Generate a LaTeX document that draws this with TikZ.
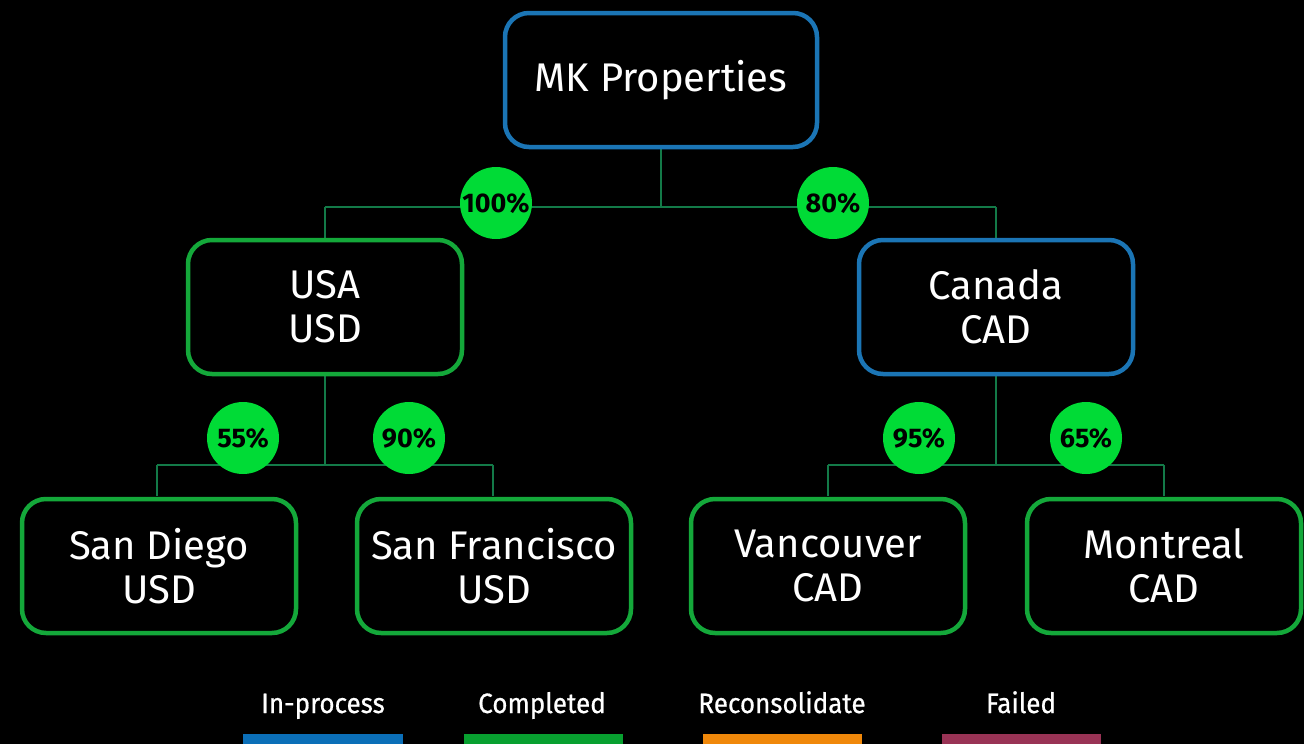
\documentclass[tikz,border=0pt]{standalone}
\usepackage{fontspec}
\setmainfont{Fira Sans}
\begin{document}
\begin{tikzpicture}[x=1pt,y=-1pt,
  box/.style={draw, line width=4.5pt, rounded corners=24pt, minimum width=274pt, minimum height=134pt, align=center, text=white, font=\fontsize{40}{44}\selectfont, fill=black},
  blu/.style={draw=boxblue},
  grn/.style={draw=boxgreen},
  pct/.style={circle, fill=pctgreen, minimum size=72pt, inner sep=0pt, text=black, font=\bfseries\fontsize{27}{27}\selectfont},
  conn/.style={draw=linegreen, line width=1.6pt},
  legtxt/.style={anchor=base, text=white, font=\fontsize{28}{28}\selectfont\addfontfeatures{FakeStretch=0.93,FakeBold=0.6}}
]
\definecolor{boxblue}{HTML}{1B75B5}
\definecolor{boxgreen}{HTML}{14A83A}
\definecolor{pctgreen}{HTML}{00DB36}
\definecolor{linegreen}{HTML}{137A48}
\definecolor{legblue}{HTML}{0B6FB8}
\definecolor{leggreen}{HTML}{08A030}
\definecolor{legorange}{HTML}{F0880A}
\definecolor{legred}{HTML}{993355}
\fill[black] (0,0) rectangle (1304,744);
\useasboundingbox (0,0) rectangle (1304,744);
% junction coordinates
\coordinate (j0) at (661,207);
\coordinate (jl) at (325,207);
\coordinate (jr) at (996,207);
\coordinate (j1) at (325,465);
\coordinate (j1l) at (157,465);
\coordinate (j1r) at (493,465);
\coordinate (j2) at (996,465);
\coordinate (j2l) at (828,465);
\coordinate (j2r) at (1164,465);
% connectors
\draw[conn] (661,149) -- (j0);
\draw[conn] (jl) -- (jr);
\draw[conn] (jl) -- (325,238);
\draw[conn] (jr) -- (996,238);
\draw[conn] (325,376) -- (j1);
\draw[conn] (j1l) -- (j1r);
\draw[conn] (j1l) -- (157,496);
\draw[conn] (j1r) -- (493,496);
\draw[conn] (996,376) -- (j2);
\draw[conn] (j2l) -- (j2r);
\draw[conn] (j2l) -- (828,496);
\draw[conn] (j2r) -- (1164,496);
% boxes
\node[box, blu, minimum width=312pt] (mk) at (661,80) {MK Properties};
\node[box, grn] (usa) at (325,307) {USA\\USD};
\node[box, blu] (can) at (996,307) {Canada\\CAD};
\node[box, grn] (sd) at (159,566) {San Diego\\USD};
\node[box, grn] (sf) at (494,566) {San Francisco\\USD};
\node[box, grn] (van) at (828,566) {Vancouver\\CAD};
\node[box, grn] (mon) at (1164,566) {Montreal\\CAD};
% percentages
\node[pct] (p1) at (496,203) {100\%};
\node[pct] (p2) at (833,203) {80\%};
\node[pct] (p3) at (243,438) {55\%};
\node[pct] (p4) at (409,438) {90\%};
\node[pct] (p5) at (919,438) {95\%};
\node[pct] (p6) at (1086,438) {65\%};
% legend
\node[legtxt] (l1) at (323,713) {In-process};
\node[legtxt] (l2) at (542,713) {Completed};
\node[legtxt] (l3) at (782,713) {Reconsolidate};
\node[legtxt] (l4) at (1021,713) {Failed};
\fill[legblue] (243,734) rectangle (403,750);
\fill[leggreen] (464,734) rectangle (623,750);
\fill[legorange] (703,734) rectangle (862,750);
\fill[legred] (942,734) rectangle (1101,750);
\end{tikzpicture}
\end{document}
